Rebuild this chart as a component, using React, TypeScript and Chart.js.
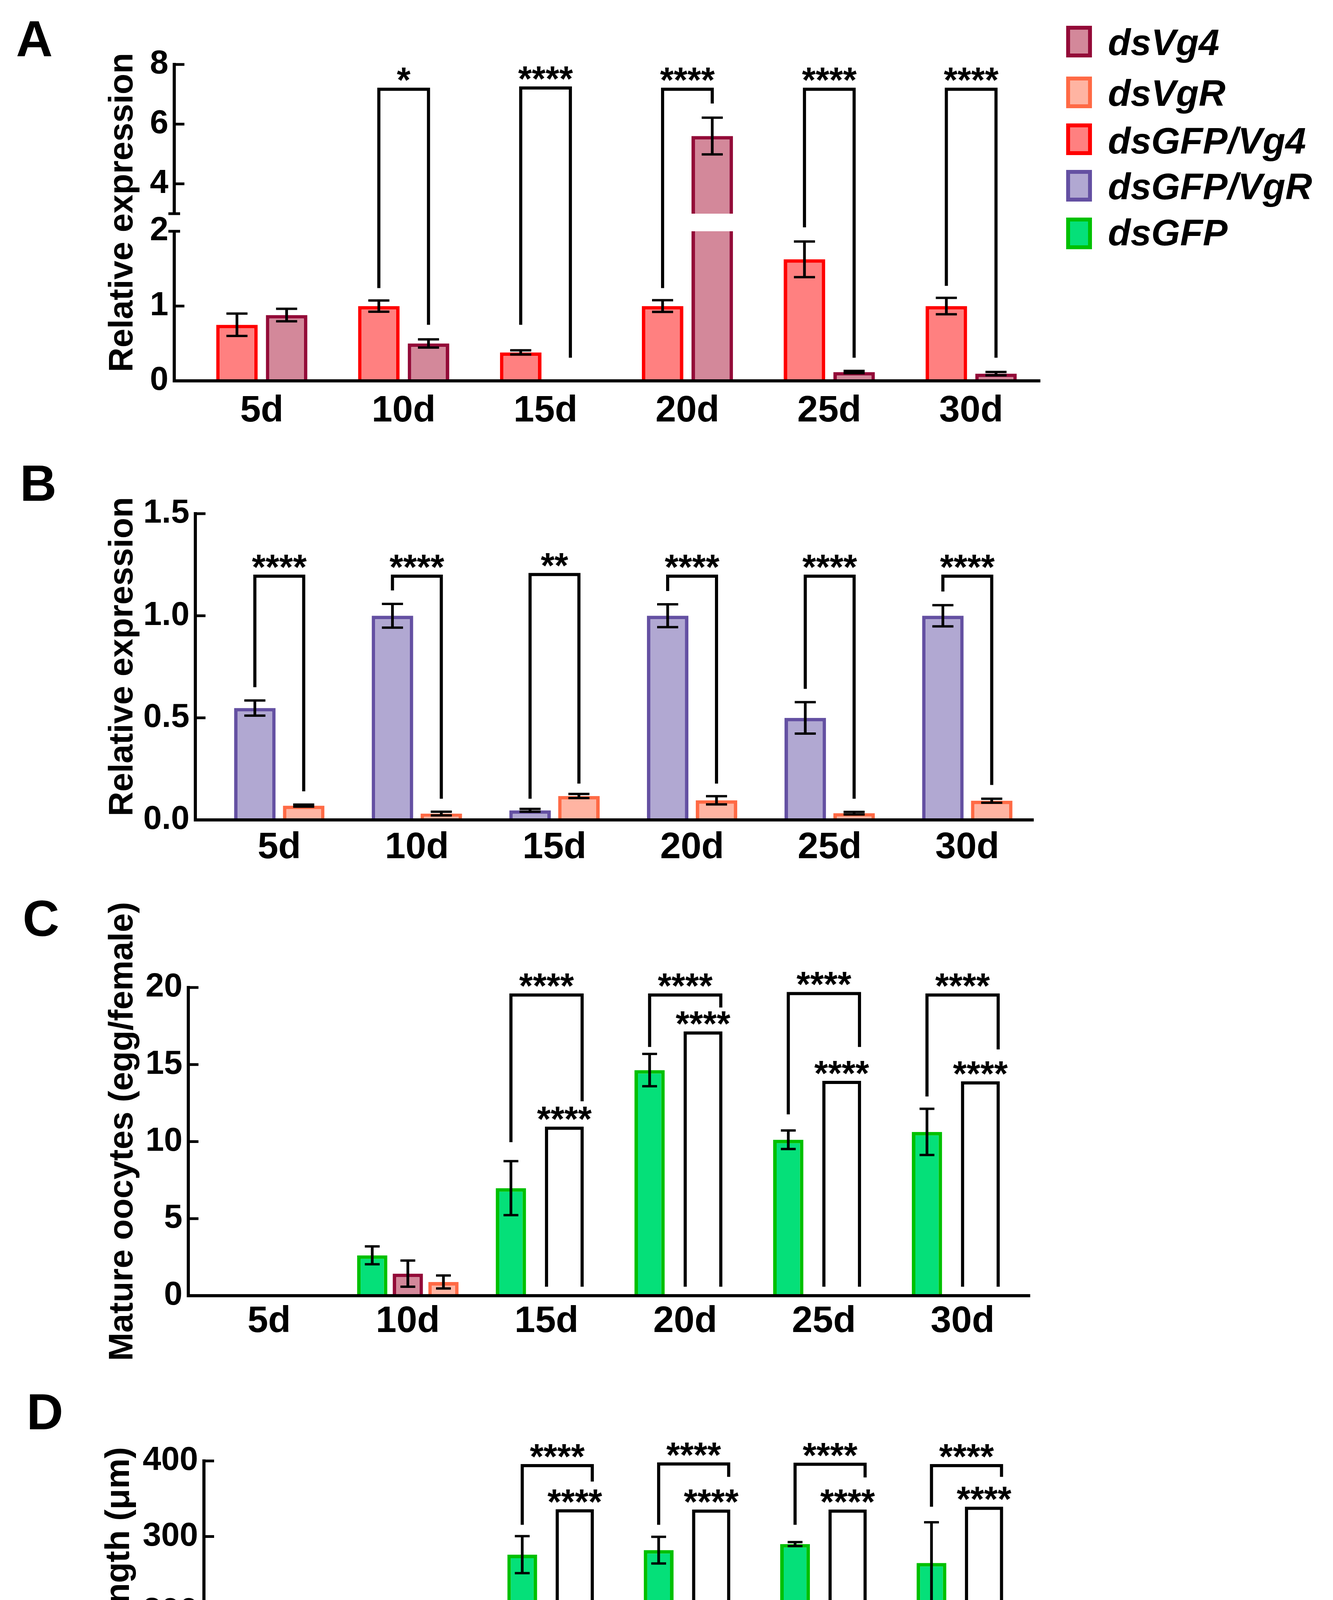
import React, { useEffect, useRef } from 'react';
import { Chart, registerables, LinearScale } from 'chart.js';

Chart.register(...registerables);

const FONT = '"Liberation Sans", Arial, Helvetica, sans-serif';

// ---------------- shared ----------------
const CATEGORIES = ['5d', '10d', '15d', '20d', '25d', '30d'];

const SERIES_NAMES = ['dsVg4', 'dsVgR', 'dsGFP/Vg4', 'dsGFP/VgR', 'dsGFP'];
const SERIES_FILL = ['#D3889A', '#FFB4A2', '#FF8080', '#B1A8D2', '#05E079'];
const SERIES_BORDER = ['#930B38', '#FF6A45', '#FF0000', '#6450A2', '#00C000'];

// ---------------- panel A ----------------
const A_GFP_VG4 = [0.75, 1.0, 0.38, 1.0, 1.625, 1.0];
const A_GFP_VG4_ERR = [0.15, 0.075, 0.028, 0.078, 0.238, 0.11];
const A_VG4 = [0.88, 0.5, 0.01, 5.6, 0.118, 0.097];
const A_VG4_ERR = [0.083, 0.055, 0, 0.615, 0.015, 0.022];
const A_TICKS = [0, 1, 2, 3, 4, 6, 8];
const A_TICK_LABELS = ['0', '1', '2', '', '4', '6', '8'];
const A_BR_CAT = [1, 2, 3, 4, 5];
const A_BR_LABEL = ['*', '****', '****', '****', '****'];
const A_BR_TOP = [7.17, 7.21, 7.17, 7.17, 7.17];
const A_BR_LEFT = [1.24, 0.75, 1.24, 2.22, 1.27];
const A_BR_RIGHT = [0.75, 0.31, 6.69, 0.31, 0.31];

// ---------------- panel B ----------------
const B_GFP_VGR = [0.548, 1.0, 0.047, 1.0, 0.5, 1.0];
const B_GFP_VGR_ERR = [0.037, 0.058, 0.007, 0.056, 0.077, 0.052];
const B_VGR = [0.07, 0.031, 0.117, 0.096, 0.033, 0.094];
const B_VGR_ERR = [0.005, 0.009, 0.01, 0.02, 0.006, 0.01];
const B_TICKS = [0, 0.5, 1, 1.5];
const B_TICK_LABELS = ['0.0', '0.5', '1.0', '1.5'];
const B_BR_CAT = [0, 1, 2, 3, 4, 5];
const B_BR_LABEL = ['****', '****', '**', '****', '****', '****'];
const B_BR_TOP = [1.194, 1.194, 1.202, 1.194, 1.194, 1.194];
const B_BR_LEFT = [0.65, 1.124, 0.104, 1.121, 0.642, 1.119];
const B_BR_RIGHT = [0.14, 0.104, 0.178, 0.178, 0.104, 0.171];

// ---------------- panel C ----------------
const C_GFP = [0, 2.62, 6.98, 14.64, 10.12, 10.63];
const C_GFP_ERR = [0, 0.58, 1.75, 1.05, 0.6, 1.5];
const C_VG4 = [0, 1.43, 0, 0, 0, 0];
const C_VG4_ERR = [0, 0.85, 0, 0, 0, 0];
const C_VGR = [0, 0.89, 0, 0, 0, 0];
const C_VGR_ERR = [0, 0.42, 0, 0, 0, 0];
const C_TICKS = [0, 5, 10, 15, 20];
const C_TICK_LABELS = ['0', '5', '10', '15', '20'];
const C_BR_CAT = [2, 3, 4, 5];
const C_BR_LABEL = ['****', '****', '****', '****'];
const C_BR1_TOP = [19.51, 19.51, 19.61, 19.51];
const C_BR1_LEFT = [9.96, 16.14, 11.77, 12.93];
const C_BR1_RIGHT = [12.62, 18.7, 16.14, 15.98];
const C_BR2_TOP = [10.87, 17.05, 13.84, 13.81];
const C_BR2_LEFT = [0.58, 0.58, 0.58, 0.58];
const C_BR2_RIGHT = [0.58, 0.58, 0.58, 0.58];

// ---------------- panel D ----------------
const D_GFP = [0, 129, 276, 282, 290, 265];
const D_GFP_ERR = [0, 4.7, 24.5, 17.6, 2.6, 53.8];
const D_VG4 = [0, 135, 47, 71, 74, 0];
const D_VG4_ERR = [0, 19.8, 5.4, 4.3, 12.2, 0];
const D_VGR = [0, 122, 0, 78, 0, 70];
const D_VGR_ERR = [0, 37, 0, 13.7, 0, 10.9];
const D_TICKS = [0, 100, 200, 300, 400];
const D_TICK_LABELS = ['0', '100', '200', '300', '400'];
const D_BR_CAT = [2, 3, 4, 5];
const D_BR_LABEL = ['****', '****', '****', '****'];
const D_BR1_TOP = [393.8, 396, 395.6, 393.8];
const D_BR1_LEFT = [315.5, 315.5, 315.5, 339.4];
const D_BR1_RIGHT = [372.8, 379, 378.2, 379];
const D_BR2_TOP = [334, 333.6, 333.6, 337.3];
const D_BR2_LEFT = [76.5, 93.6, 111.7, 26.5];
const D_BR2_RIGHT = [26.5, 108.1, 26.5, 93.6];

// ---------------- panel E ----------------
const E_GFP = [0, 57.8, 106.6, 105.9, 118.9, 109.4];
const E_GFP_ERR = [0, 7.9, 3.5, 6.5, 3.5, 8.2];
const E_VG4 = [0, 62.2, 27.8, 42.3, 43.4, 0];
const E_VG4_ERR = [0, 7.7, 4.5, 1.9, 8.5, 0];
const E_VGR = [0, 61.4, 0, 43.1, 0, 43.8];
const E_VGR_ERR = [0, 8.1, 0, 10.2, 0, 0.4];
const E_TICKS = [0, 50, 100, 150];
const E_TICK_LABELS = ['0', '50', '100', '150'];
const E_BR_CAT = [2, 3, 4, 5];
const E_BR_LABEL = ['****', '****', '****', '****'];
const E_BR1_TOP = [147.5, 148.3, 148.3, 147.6];
const E_BR1_LEFT = [117.8, 117.8, 131.8, 124.8];
const E_BR1_RIGHT = [140.6, 140.2, 140.2, 141.2];
const E_BR2_TOP = [124.8, 124.8, 126.9, 124.8];
const E_BR2_LEFT = [40.3, 52.4, 60.2, 5.3];
const E_BR2_RIGHT = [5.3, 60.2, 5.3, 52.4];

// ---------------- broken y axis for panel A ----------------
const A_SEGMENTS = [
  { lo: 0, hi: 2, span: 0.4728 },
  { lo: 2, hi: 3, span: 0.0556 },
  { lo: 3, hi: 8, span: 0.4716 },
];

class BrokenLinearScale extends LinearScale {
  static id = 'brokenLinear';
  static defaults = LinearScale.defaults;
  getPixelForValue(value: any) {
    if (value === null || value === undefined || isNaN(value)) return NaN;
    let acc = 0;
    for (let i = 0; i < A_SEGMENTS.length; i++) {
      const s = A_SEGMENTS[i];
      const last = i === A_SEGMENTS.length - 1;
      if (value <= s.hi || last) {
        acc += ((value - s.lo) / (s.hi - s.lo)) * s.span;
        break;
      }
      acc += s.span;
    }
    return this.bottom - acc * (this.bottom - this.top);
  }
  getValueForPixel(pixel: number) {
    const f = (this.bottom - pixel) / (this.bottom - this.top);
    let acc = 0;
    for (let i = 0; i < A_SEGMENTS.length; i++) {
      const s = A_SEGMENTS[i];
      if (f <= acc + s.span || i === A_SEGMENTS.length - 1) {
        return s.lo + ((f - acc) / s.span) * (s.hi - s.lo);
      }
      acc += s.span;
    }
    return 0;
  }
}
Chart.register(BrokenLinearScale as any);

function brackets(cats: number[], from: number, to: number, tops: number[], lefts: number[], rights: number[], labels: string[]) {
  return cats.map((c, i) => ({ cat: c, from, to, top: tops[i], left: lefts[i], right: rights[i], label: labels[i] }));
}

const CANVAS_W = 3412;

const PANELS: any[] = [
  {
    letter: 'A', title: 'Relative expression', top: 0, height: 1130,
    area: { left: 446, top: 165, right: 2662, bottom: 975 },
    xMin: -0.617, xMax: 5.485, xPad: 21,
    yType: 'brokenLinear', yMin: 0, yMax: 8, yTicks: A_TICKS, yLabels: A_TICK_LABELS, yBreak: [2, 3],
    series: [
      { idx: 2, data: A_GFP_VG4, err: A_GFP_VG4_ERR },
      { idx: 0, data: A_VG4, err: A_VG4_ERR },
    ],
    brackets: brackets(A_BR_CAT, 0, 1, A_BR_TOP, A_BR_LEFT, A_BR_RIGHT, A_BR_LABEL),
    barPct: 0.836, catPct: 0.7, capHalf: 27, letterX: 41, letterY: 144, titleX: 339, legend: true,
  },
  {
    letter: 'B', title: 'Relative expression', top: 1130, height: 1140,
    area: { left: 500, top: 1315, right: 2645, bottom: 2099 },
    xMin: -0.61, xMax: 5.48, xPad: 15,
    yType: 'linear', yMin: 0, yMax: 1.5, yTicks: B_TICKS, yLabels: B_TICK_LABELS,
    series: [
      { idx: 3, data: B_GFP_VGR, err: B_GFP_VGR_ERR },
      { idx: 1, data: B_VGR, err: B_VGR_ERR },
    ],
    brackets: brackets(B_BR_CAT, 0, 1, B_BR_TOP, B_BR_LEFT, B_BR_RIGHT, B_BR_LABEL),
    barPct: 0.85, catPct: 0.71, capHalf: 27, letterX: 51, letterY: 1282, titleX: 339,
  },
  {
    letter: 'C', title: 'Mature oocytes (egg/female)', top: 2270, height: 1240,
    area: { left: 482, top: 2528, right: 2636, bottom: 3317 },
    xMin: -0.583, xMax: 5.485, xPad: 10,
    yType: 'linear', yMin: 0, yMax: 20, yTicks: C_TICKS, yLabels: C_TICK_LABELS,
    series: [
      { idx: 4, data: C_GFP, err: C_GFP_ERR },
      { idx: 0, data: C_VG4, err: C_VG4_ERR },
      { idx: 1, data: C_VGR, err: C_VGR_ERR },
    ],
    brackets: [
      ...brackets(C_BR_CAT, 0, 2, C_BR1_TOP, C_BR1_LEFT, C_BR1_RIGHT, C_BR_LABEL),
      ...brackets(C_BR_CAT, 1, 2, C_BR2_TOP, C_BR2_LEFT, C_BR2_RIGHT, C_BR_LABEL),
    ],
    barPct: 0.85, catPct: 0.77, capHalf: 19, letterX: 58, letterY: 2396, titleX: 339,
  },
  {
    letter: 'D', title: 'Oocyte length (μm)', top: 3510, height: 1140,
    area: { left: 522, top: 3740, right: 2645, bottom: 4514 },
    xMin: -0.59, xMax: 5.49, xPad: 11,
    yType: 'linear', yMin: 0, yMax: 400, yTicks: D_TICKS, yLabels: D_TICK_LABELS,
    series: [
      { idx: 4, data: D_GFP, err: D_GFP_ERR },
      { idx: 0, data: D_VG4, err: D_VG4_ERR },
      { idx: 1, data: D_VGR, err: D_VGR_ERR },
    ],
    brackets: [
      ...brackets(D_BR_CAT, 0, 2, D_BR1_TOP, D_BR1_LEFT, D_BR1_RIGHT, D_BR_LABEL),
      ...brackets(D_BR_CAT, 1, 2, D_BR2_TOP, D_BR2_LEFT, D_BR2_RIGHT, D_BR_LABEL),
    ],
    barPct: 0.85, catPct: 0.77, capHalf: 19, letterX: 68, letterY: 3659, titleX: 330,
  },
  {
    letter: 'E', title: 'Oocyte width (μm)', top: 4600, height: 1130,
    area: { left: 526, top: 4784, right: 2636, bottom: 5557 },
    xMin: -0.585, xMax: 5.48, xPad: 10,
    yType: 'linear', yMin: 0, yMax: 150, yTicks: E_TICKS, yLabels: E_TICK_LABELS,
    series: [
      { idx: 4, data: E_GFP, err: E_GFP_ERR },
      { idx: 0, data: E_VG4, err: E_VG4_ERR },
      { idx: 1, data: E_VGR, err: E_VGR_ERR },
    ],
    brackets: [
      ...brackets(E_BR_CAT, 0, 2, E_BR1_TOP, E_BR1_LEFT, E_BR1_RIGHT, E_BR_LABEL),
      ...brackets(E_BR_CAT, 1, 2, E_BR2_TOP, E_BR2_LEFT, E_BR2_RIGHT, E_BR_LABEL),
    ],
    barPct: 0.85, catPct: 0.77, capHalf: 19, letterX: 73, letterY: 4714, titleX: 330,
  },
];

// legend geometry (panel A canvas)
const LEGEND_ORDER = [0, 1, 2, 3, 4];
const LEGEND_BOX = { x: 2729, w: 66, h: 81, border: 10 };
const LEGEND_TOPS = [66, 196, 316, 435, 557];
const LEGEND_BASELINES = [141, 271, 393, 510, 628];
const LEGEND_TEXT_X = 2836;

function buildConfig(p: any) {
  const localTop = p.area.top - p.top;
  const localBottom = p.area.bottom - p.top;

  const datasets = p.series.map((s: any) => ({
    label: SERIES_NAMES[s.idx],
    data: s.data.map((v: number, i: number) => ({ x: i, y: v })),
    backgroundColor: SERIES_FILL[s.idx],
    borderColor: SERIES_BORDER[s.idx],
    borderWidth: 9,
    borderSkipped: 'start',
    barPercentage: p.barPct,
    categoryPercentage: p.catPct,
  }));

  const overlay = {
    id: 'overlay' + p.letter,
    afterDraw(chart: any) {
      const ctx = chart.ctx;
      const ys = chart.scales.y;
      const ca = chart.chartArea;
      const py = (v: number) => ys.getPixelForValue(v);
      ctx.save();
      ctx.strokeStyle = '#000';
      ctx.fillStyle = '#000';
      ctx.lineCap = 'butt';

      // axis break
      if (p.yBreak) {
        const yUp = py(p.yBreak[1]);
        const yLow = py(p.yBreak[0]);
        ctx.fillStyle = '#fff';
        ctx.fillRect(ca.left - 10, yUp, ca.right - ca.left + 10, yLow - yUp);
        ctx.fillStyle = '#000';
      }

      // inward tick marks
      p.yTicks.forEach((v: number) => {
        if (v === p.yMin) return;
        const y = py(v);
        ctx.lineWidth = 7;
        ctx.beginPath();
        if (p.yBreak && p.yBreak.includes(v)) {
          ctx.moveTo(ca.left - 15, y);
          ctx.lineTo(ca.left + 15, y);
        } else {
          ctx.moveTo(ca.left - 4, y);
          ctx.lineTo(ca.left + 26, y);
        }
        ctx.stroke();
      });

      // error bars
      p.series.forEach((s: any, di: number) => {
        const meta = chart.getDatasetMeta(di);
        s.err.forEach((e: number, i: number) => {
          if (!e) return;
          const x = meta.data[i].x;
          const yt = py(s.data[i] + e);
          const yb = py(s.data[i] - e);
          ctx.lineWidth = 7;
          ctx.beginPath();
          ctx.moveTo(x, yt);
          ctx.lineTo(x, yb);
          ctx.stroke();
          ctx.lineWidth = 6;
          ctx.beginPath();
          ctx.moveTo(x - p.capHalf, yt);
          ctx.lineTo(x + p.capHalf, yt);
          ctx.moveTo(x - p.capHalf, yb);
          ctx.lineTo(x + p.capHalf, yb);
          ctx.stroke();
        });
      });

      // significance brackets
      ctx.lineJoin = 'miter';
      p.brackets.forEach((b: any) => {
        const x1 = chart.getDatasetMeta(b.from).data[b.cat].x;
        const x2 = chart.getDatasetMeta(b.to).data[b.cat].x;
        const yt = py(b.top);
        ctx.lineWidth = 8;
        ctx.beginPath();
        ctx.moveTo(x1, py(b.left));
        ctx.lineTo(x1, yt);
        ctx.lineTo(x2, yt);
        ctx.lineTo(x2, py(b.right));
        ctx.stroke();
        ctx.font = `bold 90px ${FONT}`;
        ctx.textAlign = 'center';
        ctx.textBaseline = 'alphabetic';
        ctx.fillText(b.label, (x1 + x2) / 2, yt + 8);
      });

      // panel letter
      ctx.font = `bold 130px ${FONT}`;
      ctx.textAlign = 'left';
      ctx.textBaseline = 'alphabetic';
      ctx.fillText(p.letter, p.letterX, p.letterY - p.top);

      // y axis title
      ctx.save();
      ctx.translate(p.titleX, (ca.top + ca.bottom) / 2 - 26);
      ctx.rotate(-Math.PI / 2);
      ctx.font = `bold 87px ${FONT}`;
      ctx.textAlign = 'center';
      ctx.textBaseline = 'alphabetic';
      ctx.fillText(p.title, 0, 0);
      ctx.restore();

      // legend
      if (p.legend) {
        LEGEND_ORDER.forEach((si, k) => {
          const t = LEGEND_TOPS[k] - p.top;
          ctx.fillStyle = SERIES_BORDER[si];
          ctx.fillRect(LEGEND_BOX.x, t, LEGEND_BOX.w, LEGEND_BOX.h);
          ctx.fillStyle = SERIES_FILL[si];
          ctx.fillRect(
            LEGEND_BOX.x + LEGEND_BOX.border,
            t + LEGEND_BOX.border,
            LEGEND_BOX.w - 2 * LEGEND_BOX.border,
            LEGEND_BOX.h - 2 * LEGEND_BOX.border
          );
          ctx.fillStyle = '#000';
          ctx.font = `italic bold 95px ${FONT}`;
          ctx.textAlign = 'left';
          ctx.textBaseline = 'alphabetic';
          ctx.fillText(SERIES_NAMES[si], LEGEND_TEXT_X, LEGEND_BASELINES[k] - p.top);
        });
      }
      ctx.restore();
    },
  };

  const axisCommon = {
    grid: { display: true, drawOnChartArea: false, drawTicks: false },
    border: { display: true, color: '#000', width: 8, z: 1 },
  };

  return {
    type: 'bar',
    data: { datasets },
    options: {
      responsive: false,
      maintainAspectRatio: false,
      animation: false,
      devicePixelRatio: 1,
      events: [],
      layout: { padding: { left: 0, top: localTop, right: CANVAS_W - p.area.right, bottom: 0 } },
      plugins: { legend: { display: false }, tooltip: { enabled: false }, title: { display: false } },
      scales: {
        x: {
          type: 'linear',
          min: p.xMin,
          max: p.xMax,
          offset: false,
          ...axisCommon,
          ticks: {
            padding: p.xPad,
            color: '#000',
            autoSkip: false,
            maxRotation: 0,
            minRotation: 0,
            font: { family: FONT, size: 95, weight: 'bold' },
            callback: (v: number) => CATEGORIES[v] ?? '',
          },
          afterBuildTicks: (s: any) => {
            s.ticks = CATEGORIES.map((_, i) => ({ value: i }));
          },
          afterFit: (s: any) => {
            s.height = p.height - localBottom;
          },
        },
        y: {
          type: p.yType,
          min: p.yMin,
          max: p.yMax,
          ...axisCommon,
          ticks: {
            padding: 15,
            color: '#000',
            autoSkip: false,
            font: { family: FONT, size: 85, weight: 'bold' },
            callback: (v: number) => {
              const k = p.yTicks.indexOf(v);
              return k >= 0 ? p.yLabels[k] : '';
            },
          },
          afterBuildTicks: (s: any) => {
            s.ticks = p.yTicks.map((v: number) => ({ value: v }));
          },
          afterFit: (s: any) => {
            s.width = p.area.left;
          },
        },
      },
    },
    plugins: [overlay],
  };
}

function PanelChart({ p }: { p: any }) {
  const ref = useRef<HTMLCanvasElement | null>(null);
  useEffect(() => {
    if (!ref.current) return;
    const chart = new Chart(ref.current, buildConfig(p) as any);
    return () => chart.destroy();
  }, [p]);
  return (
    <canvas
      ref={ref}
      width={CANVAS_W}
      height={p.height}
      style={{ position: 'absolute', left: 0, top: p.top, width: CANVAS_W, height: p.height }}
    />
  );
}

export default function App() {
  return (
    <div
      style={{
        position: 'absolute',
        left: 0,
        top: 0,
        width: 3412,
        height: 5730,
        background: '#fff',
        overflow: 'hidden',
      }}
    >
      {PANELS.map((p) => (
        <PanelChart key={p.letter} p={p} />
      ))}
    </div>
  );
}
